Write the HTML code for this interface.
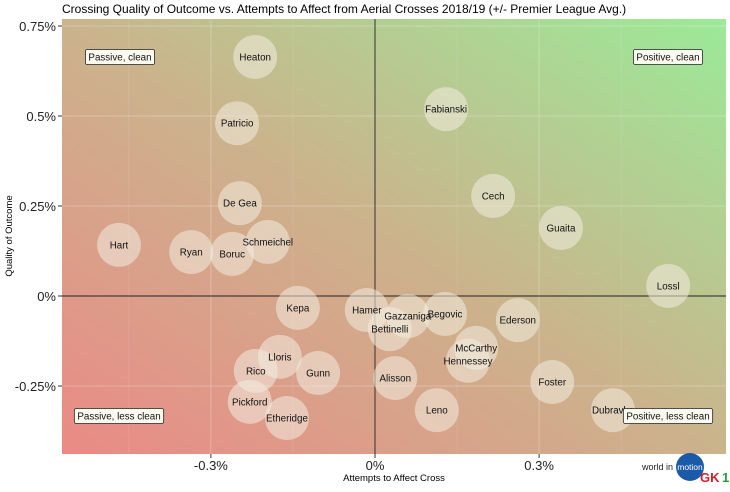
<!DOCTYPE html>
<html><head><meta charset="utf-8"><style>
body{margin:0;background:#fff;width:730px;height:487px;overflow:hidden;font-family:"Liberation Sans",sans-serif}
</style></head><body>
<svg id="chart" width="730" height="487" xmlns="http://www.w3.org/2000/svg" font-family="Liberation Sans, sans-serif">
<defs>
<linearGradient id="bg" x1="0" y1="1" x2="1" y2="0">
<stop offset="0" stop-color="#ea8a86"/>
<stop offset="0.5" stop-color="#cbb38c"/>
<stop offset="1" stop-color="#9bea98"/>
</linearGradient>
</defs>
<text x="62" y="13" font-size="12" fill="#000">Crossing Quality of Outcome vs. Attempts to Affect from Aerial Crosses 2018/19 (+/- Premier League Avg.)</text>
<rect x="62" y="19" width="664" height="435" fill="url(#bg)"/>
<g id="grid"></g>
<g id="axes"></g>
<g id="bubbles"></g>
<text x="394" y="481" font-size="9.5" text-anchor="middle">Attempts to Affect Cross</text>
<text transform="translate(12,236) rotate(-90)" font-size="9.5" text-anchor="middle">Quality of Outcome</text>
<g>
<text x="642" y="470" font-size="9" fill="#222">world in</text>
<circle cx="690" cy="467" r="14" fill="#1b5aa8"/>
<text x="690" y="470" font-size="8.5" fill="#fff" text-anchor="middle">motion</text>
<text x="700" y="482" font-size="13" font-weight="bold" fill="#d0202a">GK</text>
<text x="722" y="482" font-size="13" font-weight="bold" fill="#2a9a3a">1</text>
</g>
</svg>
<script>
const names=["Heaton","Patricio","Fabianski","Cech","Guaita","Lossl","De Gea","Hart","Ryan","Boruc","Schmeichel","Kepa","Hamer","Bettinelli","Gazzaniga","Begovic","Ederson","McCarthy","Hennessey","Alisson","Foster","Leno","Dubravka","Lloris","Rico","Gunn","Pickford","Etheridge"];
const attempts=[-0.219,-0.252,0.130,0.216,0.340,0.536,-0.247,-0.468,-0.336,-0.261,-0.196,-0.141,-0.015,0.027,0.060,0.128,0.261,0.185,0.170,0.037,0.324,0.113,0.435,-0.174,-0.218,-0.104,-0.229,-0.161];
const quality=[0.664,0.48,0.519,0.278,0.189,0.028,0.258,0.142,0.122,0.117,0.15,-0.033,-0.039,-0.092,-0.056,-0.05,-0.067,-0.144,-0.18,-0.228,-0.239,-0.317,-0.317,-0.169,-0.208,-0.214,-0.294,-0.339];
const xTicks=[-0.3,0,0.3];
const xTickLabels=["-0.3%","0%","0.3%"];
const yTicks=[-0.25,0,0.25,0.5,0.75];
const yTickLabels=["-0.25%","0%","0.25%","0.5%","0.75%"];
const ns="http://www.w3.org/2000/svg";
const X=v=>375+v*547, Y=v=>296-v*360;
function mk(t,a,p){const e=document.createElementNS(ns,t);for(const k in a)e.setAttribute(k,a[k]);p.appendChild(e);return e;}
const grid=document.getElementById('grid'),axes=document.getElementById('axes'),bub=document.getElementById('bubbles');
[-0.45,-0.15,0.15,0.45].forEach(v=>{const l=mk('line',{x1:X(v),x2:X(v),y1:19,y2:454,stroke:'#fff','stroke-opacity':0.15,'stroke-width':0.6},grid);
});
xTicks.forEach((v,i)=>{const l=mk('line',{x1:X(v),x2:X(v),y1:19,y2:454,stroke:'#fff','stroke-opacity':0.25,'stroke-width':1},grid);

mk('line',{x1:X(v),x2:X(v),y1:454,y2:458,stroke:'#333'},axes);
const t=mk('text',{x:X(v),y:470,'font-size':13,'text-anchor':'middle',fill:'#222'},axes);t.textContent=xTickLabels[i];
});
yTicks.forEach((v,i)=>{const l=mk('line',{x1:62,x2:726,y1:Y(v),y2:Y(v),stroke:'#fff','stroke-opacity':0.25,'stroke-width':1},grid);

mk('line',{x1:58,x2:62,y1:Y(v),y2:Y(v),stroke:'#333'},axes);
const t=mk('text',{x:56,y:Y(v)+5,'font-size':13,'text-anchor':'end',fill:'#222'},axes);t.textContent=yTickLabels[i];
});
const zx=mk('line',{x1:X(0),x2:X(0),y1:19,y2:454,stroke:'#222','stroke-width':0.9},axes);

const zy=mk('line',{x1:62,x2:726,y1:Y(0),y2:Y(0),stroke:'#222','stroke-width':0.9},axes);

names.forEach((n,i)=>{const c=mk('circle',{cx:X(attempts[i]),cy:Y(quality[i]),r:22,fill:'#f2ece0','fill-opacity':0.55},bub);
});
names.forEach((n,i)=>{const t=mk('text',{x:X(attempts[i]),y:Y(quality[i])+3.5,'font-size':9.8,'text-anchor':'middle',fill:'#111'},bub);t.textContent=n;
});
const quads=[["Passive, clean",120,57],["Positive, clean",668,57],["Passive, less clean",119,416],["Positive, less clean",668,416]];
quads.forEach(q=>{
const g=mk('g',{},bub);
const r=mk('rect',{y:q[2]-7.5,height:15,rx:2,fill:'#fbfaf0',stroke:'#222','stroke-width':0.8},g);
const t=mk('text',{x:q[1],y:q[2]+3.5,'font-size':9.8,'text-anchor':'middle',fill:'#111'},g);t.textContent=q[0];
const w=t.getComputedTextLength()+6;r.setAttribute('x',q[1]-w/2);r.setAttribute('width',w);});
</script>
</body></html>
